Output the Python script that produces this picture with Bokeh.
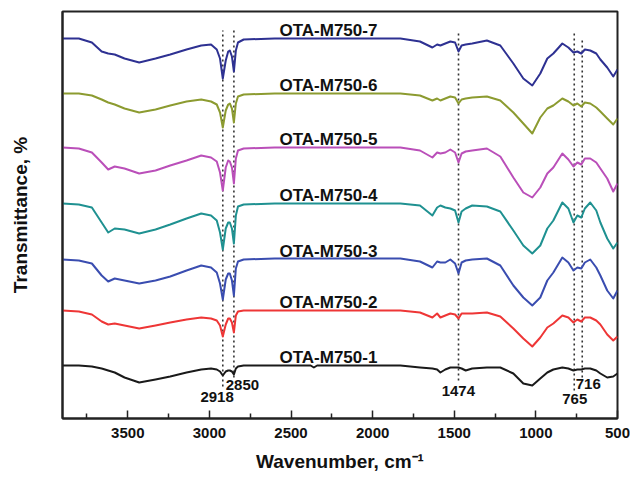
from bokeh.plotting import figure
from bokeh.models import Range1d, FixedTicker, ColumnDataSource
from bokeh.embed import file_html
from bokeh.resources import INLINE
from bokeh.core.properties import value

# ---------------- data ----------------
wavenumber = [3900, 3800, 3720, 3660, 3620, 3580, 3520, 3430, 3330, 3240, 3140, 3050,
              2990, 2955, 2935, 2918, 2900, 2885, 2875, 2862, 2850, 2838, 2825, 2790,
              2600, 2380, 2360, 2340, 2100, 1830, 1710, 1634, 1605, 1585, 1555, 1524,
              1495, 1474, 1455, 1430, 1390, 1300, 1218, 1138, 1077, 1022, 973, 930,
              893, 838, 801, 770, 746, 722, 700, 667, 630, 605, 563, 526, 500]

ota_7 = [380, 380, 376, 367, 365, 364, 360, 356, 360, 364, 369, 373,
         374, 369, 360, 340, 358, 367, 368, 362, 347, 368, 376, 379,
         380, 380, 380, 380, 380, 380, 377, 371, 374, 373, 375, 377,
         376, 367, 373, 374, 375, 378, 373, 355, 340, 333, 345, 360,
         365, 375, 371, 366, 367, 365, 369, 368, 365, 359, 351, 342, 349]

ota_6 = [325, 325, 323, 319, 316, 314, 310, 306, 309, 313, 317, 319,
         317, 314, 306, 291, 308, 314, 315, 310, 296, 315, 322, 324,
         325, 325, 325, 325, 325, 325, 323, 318, 320, 318, 320, 322,
         321, 315, 319, 320, 321, 322, 318, 306, 295, 285, 301, 310,
         313, 320, 317, 313, 315, 312, 316, 315, 311, 307, 300, 294, 300]

ota_5 = [271, 270, 266, 256, 249, 252, 250, 245, 248, 253, 258, 263,
         261, 257, 246, 228, 251, 258, 257, 251, 235, 260, 268, 270,
         271, 271, 271, 271, 271, 271, 268, 261, 266, 265, 266, 269,
         266, 256, 265, 267, 268, 270, 262, 241, 226, 221, 231, 245,
         251, 265, 259, 252, 256, 254, 260, 260, 256, 250, 240, 227, 235]

ota_4 = [215, 214, 211, 196, 186, 190, 189, 185, 189, 194, 200, 205,
         203, 198, 186, 169, 190, 196, 196, 190, 175, 203, 212, 214,
         215, 215, 215, 215, 215, 215, 213, 203, 211, 213, 211, 210,
         208, 196, 207, 210, 213, 212, 207, 188, 173, 165, 173, 190,
         198, 216, 210, 196, 203, 201, 210, 216, 208, 196, 180, 170, 176]

ota_3 = [159, 158, 155, 143, 137, 140, 138, 135, 138, 142, 148, 153,
         151, 146, 135, 119, 139, 145, 145, 138, 123, 150, 157, 159,
         160, 160, 160, 160, 160, 160, 157, 151, 157, 156, 156, 159,
         155, 145, 156, 158, 159, 160, 153, 133, 121, 113, 121, 138,
         146, 161, 156, 148, 151, 150, 156, 159, 151, 143, 128, 120, 128]

ota_2 = [108, 107, 104, 97, 94, 95, 93, 90, 93, 96, 99, 101,
         100, 98, 93, 82, 94, 100, 100, 96, 86, 103, 107, 108,
         108, 108, 108, 108, 108, 108, 106, 101, 105, 101, 103, 105,
         104, 100, 105, 105, 105, 106, 102, 90, 80, 72, 81, 91,
         95, 103, 101, 96, 99, 97, 101, 101, 98, 94, 84, 78, 82]

ota_1 = [53, 53, 52, 50, 48, 46, 41, 36, 39, 42, 46, 49,
         50, 49, 47, 43, 47, 48, 48, 47, 44, 50, 52, 53,
         53, 53, 51, 53, 53, 53, 51, 50, 49, 46, 49, 51,
         51, 51, 50, 48, 50, 51, 51, 45, 35, 33, 40, 46,
         49, 51, 50, 48, 49, 49, 50, 50, 48, 45, 41, 42, 45]

series_names = ["OTA-M750-1", "OTA-M750-2", "OTA-M750-3", "OTA-M750-4",
                "OTA-M750-5", "OTA-M750-6", "OTA-M750-7"]
series_values = [ota_1, ota_2, ota_3, ota_4, ota_5, ota_6, ota_7]
series_colors = ["#1A1A1A", "#EE3636", "#3A4DB0", "#1F9191",
                 "#BA4FB9", "#8C9B30", "#2E3192"]

peak_positions = [2918, 2850, 1474, 765, 716]
x_ticks = [3500, 3000, 2500, 2000, 1500, 1000, 500]
x_minor_ticks = [3750, 3250, 2750, 2250, 1750, 1250, 750]

# ---------------- figure ----------------
FONT = "Liberation Sans"

p = figure(width=630, height=482,
           x_range=Range1d(3900, 500), y_range=Range1d(0, 407),
           output_backend="svg", toolbar_location=None,
           min_border_left=62, min_border_right=13,
           min_border_top=11, min_border_bottom=64)

p.background_fill_color = "white"
p.border_fill_color = "white"
p.outline_line_color = "#222222"
p.outline_line_width = 2
p.xgrid.visible = False
p.ygrid.visible = False

# x axis
xa = p.xaxis[0]
xa.ticker = FixedTicker(ticks=x_ticks, minor_ticks=x_minor_ticks)
xa.axis_line_color = "#222222"
xa.axis_line_width = 2
xa.major_tick_in = 8
xa.major_tick_out = 0
xa.minor_tick_in = 5
xa.minor_tick_out = 0
xa.major_tick_line_color = "#222222"
xa.minor_tick_line_color = "#222222"
xa.major_tick_line_width = 1.5
xa.minor_tick_line_width = 1.5
xa.major_label_text_font = FONT
xa.major_label_text_font_style = "bold"
xa.major_label_text_font_size = "15px"
xa.major_label_text_color = "#111111"
xa.major_label_standoff = 9
xa.axis_label = "Wavenumber, cm⁻¹"
xa.axis_label_text_font = FONT
xa.axis_label_text_font_style = "bold"
xa.axis_label_text_font_size = "19px"
xa.axis_label_text_color = "#111111"
xa.axis_label_standoff = 10

# y axis (no ticks)
ya = p.yaxis[0]
ya.ticker = FixedTicker(ticks=[])
ya.axis_line_color = "#222222"
ya.axis_line_width = 2
ya.major_tick_in = 0
ya.major_tick_out = 0
ya.minor_tick_in = 0
ya.minor_tick_out = 0
ya.axis_label = "Transmittance, %"
ya.axis_label_text_font = FONT
ya.axis_label_text_font_style = "bold"
ya.axis_label_text_font_size = "19px"
ya.axis_label_text_color = "#111111"
ya.axis_label_standoff = 32

# dotted guide lines at the marked peaks
dot_bottom = [32, 41, 38, 28, 41]
dot_top = [388, 391, 386, 386, 378]
p.segment(x0=peak_positions, y0=dot_bottom, x1=peak_positions, y1=dot_top,
          line_color="#333333", line_width=1.6, line_dash="2 3")

# spectra
for name, vals, col in zip(series_names, series_values, series_colors):
    p.line(wavenumber, vals, line_color=col, line_width=2, line_join="round")

# series labels just above each trace's plateau
lab_src = ColumnDataSource(dict(
    x=[2271] * len(series_names),
    y=[v[0] + 8.5 for v in series_values],
    t=series_names,
))
p.text(x="x", y="y", text="t", source=lab_src,
       text_font=value(FONT), text_font_style="bold", text_font_size="17px",
       text_align="center", text_baseline="middle", text_color="#111111")

# peak labels
peak_lab_x = [2953, 2798, 1475, 762, 679]
peak_lab_y = [22, 33.5, 28, 19.5, 35]
pk_src = ColumnDataSource(dict(x=peak_lab_x, y=peak_lab_y,
                               t=[str(v) for v in peak_positions]))
p.text(x="x", y="y", text="t", source=pk_src,
       text_font=value(FONT), text_font_style="bold", text_font_size="15px",
       text_align="center", text_baseline="middle", text_color="#111111")

open("out.html", "w").write(file_html(p, INLINE))
